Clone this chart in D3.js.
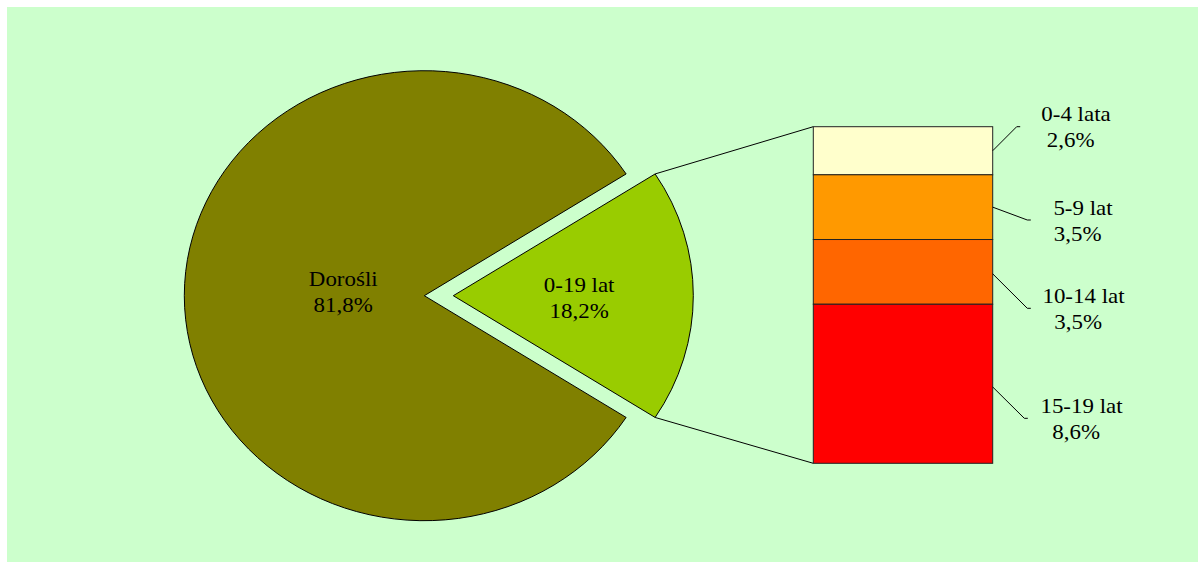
<!DOCTYPE html>
<html>
<head>
<meta charset="utf-8">
<script src="https://cdn.jsdelivr.net/npm/d3@7"></script>
<style>
  html, body { margin: 0; padding: 0; background: #ffffff; }
  svg { display: block; }
</style>
</head>
<body>
<svg id="chart" width="1198" height="562"></svg>
<script>
// ---- data ----
const pieCategories = ["Dorośli", "0-19 lat"];
const pieValues = [81.8, 18.2];
const pieLabels = ["81,8%", "18,2%"];
const pieColors = ["#808000", "#99CC00"];

const barCategories = ["0-4 lata", "5-9 lat", "10-14 lat", "15-19 lat"];
const barValues = [2.6, 3.5, 3.5, 8.6];
const barLabels = ["2,6%", "3,5%", "3,5%", "8,6%"];
const barColors = ["#FFFFCC", "#FF9900", "#FF6600", "#FF0000"];

// ---- layout ----
const FONT = "Liberation Serif, Tinos, Times New Roman, DejaVu Serif, Noto Serif, serif";
const svg = d3.select("#chart").style("font-family", FONT);
svg.append("rect").attr("x", 7).attr("y", 7).attr("width", 1191).attr("height", 555).attr("fill", "#CCFFCC");

const sx = 240 / 225;           // horizontal stretch of the original picture
const R = 225;
const cx = 424.3, cy = 295.7;
const explode = 29;

const total = d3.sum(pieValues);
const half = Math.PI * pieValues[1] / total;
const pie = d3.pie().sort(null).value(d => d)
  .startAngle(Math.PI / 2 + half).endAngle(Math.PI / 2 + half + 2 * Math.PI);
const arcs = pie(pieValues);
const arc = d3.arc().innerRadius(0).outerRadius(R);

const labelRadii = [76, 118];
const labelDy = [-9.8, -4];

arcs.forEach((a, i) => {
  const ox = i === 1 ? explode : 0;
  const g = svg.append("g").attr("transform", `translate(${cx + ox},${cy}) scale(${sx},1)`);
  g.append("path").attr("d", arc(a)).attr("fill", pieColors[i])
    .attr("stroke", "#000").attr("stroke-width", 1).attr("vector-effect", "non-scaling-stroke")
    .attr("stroke-linejoin", "miter");
  const mid = (a.startAngle + a.endAngle) / 2;
  const lx = cx + ox + Math.sin(mid) * labelRadii[i] * sx;
  const ly = cy - Math.cos(mid) * labelRadii[i] + labelDy[i];
  const t = svg.append("text").attr("text-anchor", "middle").attr("font-size", 21.5)
    .style("font-family", FONT).attr("fill", "#000")
    .attr("transform", `translate(${lx},${ly}) scale(${sx},1)`);
  t.append("tspan").attr("x", 0).attr("y", 0).text(pieCategories[i]);
  t.append("tspan").attr("x", 0).attr("y", 26.5).text(pieLabels[i]);
});

// ---- stacked bar ----
const barX0 = 813.3, barX1 = 992.7;
const y = d3.scaleLinear().domain([0, d3.sum(barValues)]).range([126.7, 463.3]);
const cum = d3.cumsum(barValues);
const starts = barValues.map((v, i) => cum[i] - v);

// connector lines from small slice to bar
const smallA = arcs[1];
const ptAt = ang => [cx + explode + Math.sin(ang) * R * sx, cy - Math.cos(ang) * R];
const pTop = ptAt(smallA.startAngle), pBot = ptAt(smallA.endAngle);
svg.append("line").attr("x1", pTop[0]).attr("y1", pTop[1]).attr("x2", barX0).attr("y2", y(0))
  .attr("stroke", "#000").attr("stroke-width", 1);
svg.append("line").attr("x1", pBot[0]).attr("y1", pBot[1]).attr("x2", barX0).attr("y2", y(d3.sum(barValues)))
  .attr("stroke", "#000").attr("stroke-width", 1);

svg.selectAll("rect.seg").data(barValues).join("rect").attr("class", "seg")
  .attr("x", barX0).attr("width", barX1 - barX0)
  .attr("y", (d, i) => y(starts[i])).attr("height", d => y(d) - y(0))
  .attr("fill", (d, i) => barColors[i]).attr("stroke", "#222").attr("stroke-width", 1);

// bar labels with leader lines
const leaderEnd = [[1016.7, 126.7], [1027.3, 220], [1027.3, 308.3], [1024.3, 418.3]];
const leaderStartFrac = [0.5, 0.5, 0.53, 0.52];
const textCx = [1076, 1083, 1083.5, 1081.5];
const textBase = [120.7, 215, 302.7, 412.7];
barValues.forEach((v, i) => {
  const sy = y(starts[i] + v * leaderStartFrac[i]);
  const e = leaderEnd[i];
  svg.append("polyline")
    .attr("points", `${barX1},${sy} ${e[0]},${e[1]} ${e[0] + 3.5},${e[1]}`)
    .attr("fill", "none").attr("stroke", "#000").attr("stroke-width", 1);
  const t = svg.append("text").attr("text-anchor", "middle").attr("font-size", 21.5)
    .style("font-family", FONT).attr("fill", "#000")
    .attr("transform", `translate(${textCx[i]},${textBase[i]}) scale(${sx},1)`);
  t.append("tspan").attr("x", 0).attr("y", 0).text(barCategories[i]);
  t.append("tspan").attr("x", -5).attr("y", 26.5).text(barLabels[i]);
});
</script>
</body>
</html>
